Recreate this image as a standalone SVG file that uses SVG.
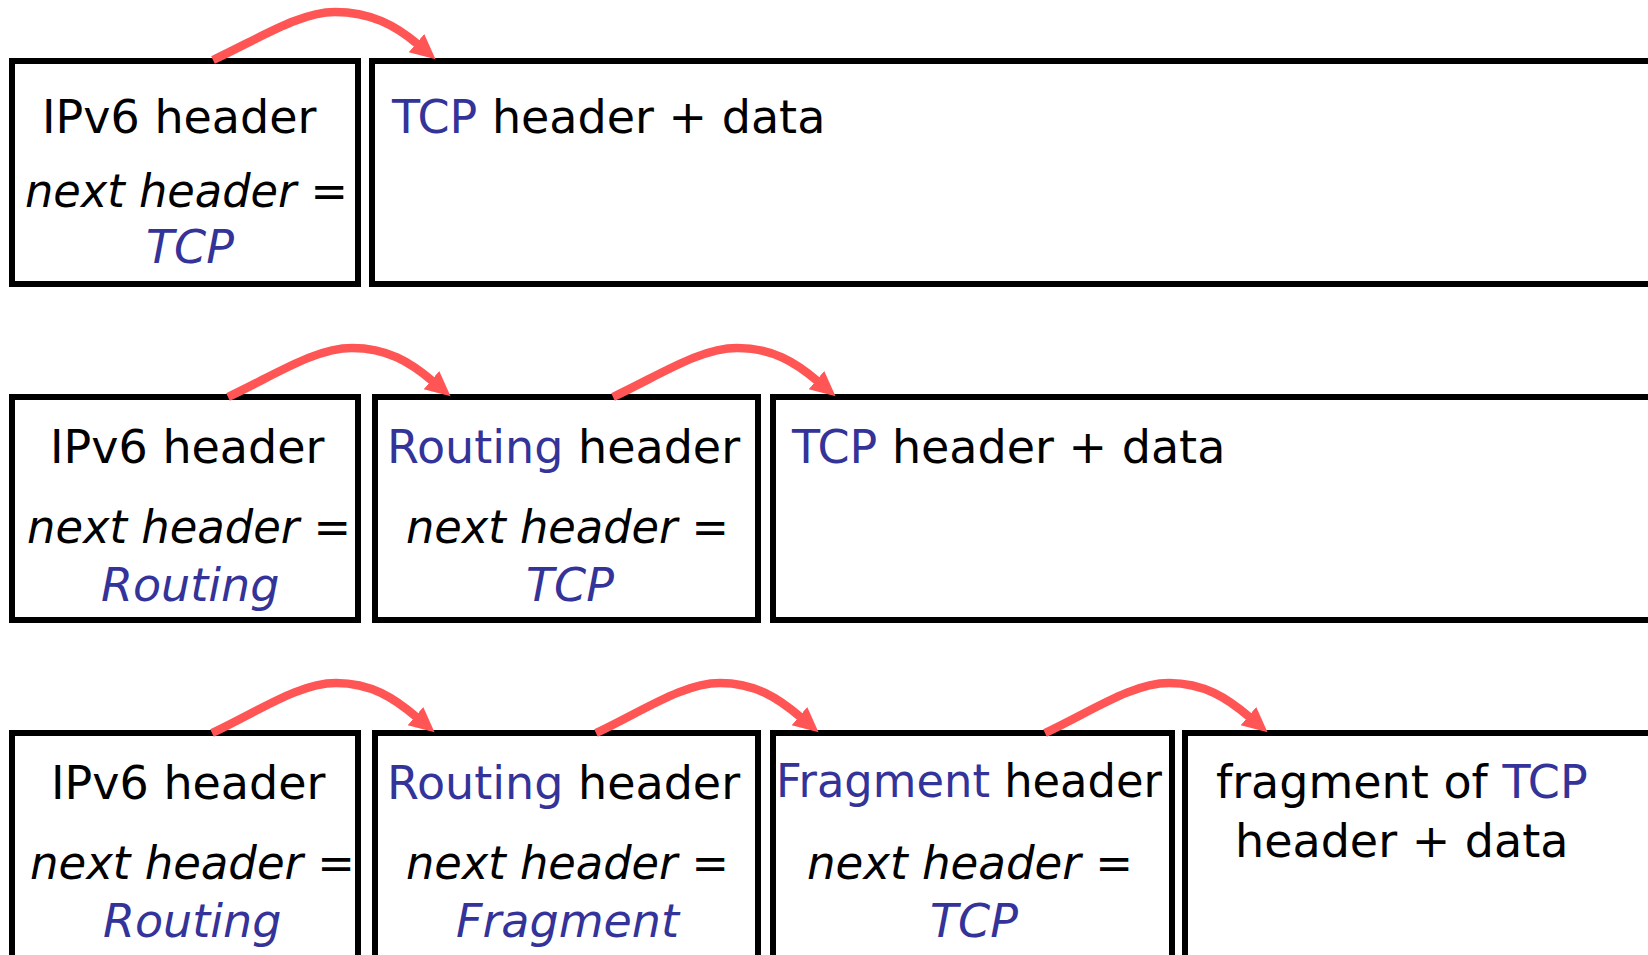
<svg xmlns="http://www.w3.org/2000/svg" width="1648" height="955" viewBox="0 0 1648 955">
  <style>
    .box { fill: #ffffff; stroke: #000000; stroke-width: 6; }
    .t { font-family: "DejaVu Sans", "Liberation Sans", sans-serif; font-size: 46px; fill: #000000; }
    .i { font-style: italic; }
    .b { fill: #333399; }
    .link { fill: none; stroke: #ff5555; stroke-width: 8.5; marker-end: url(#head); }
  </style>
  <defs>
    <marker id="head" markerUnits="userSpaceOnUse" markerWidth="32" markerHeight="32" viewBox="0 -16 32 32" refX="2" refY="0" orient="auto">
      <path d="M0,-12 L25,0 L0,12 z" fill="#ff5555"/>
    </marker>
  </defs>
  <rect width="1648" height="955" fill="#ffffff"/>

  <!-- Packet 1: IPv6 + TCP -->
  <g id="p1-ipv6">
    <rect class="box" x="12" y="61" width="346" height="223"/>
    <text class="t" x="42" y="133">IPv6 header</text>
    <text class="t i" x="25" y="207" textLength="323" lengthAdjust="spacingAndGlyphs">next header =</text>
    <text class="t i b" x="146" y="263">TCP</text>
  </g>
  <g id="p1-tcp">
    <rect class="box" x="372" y="61" width="1400" height="223"/>
    <text class="t" x="392" y="133"><tspan class="b">TCP</tspan> header + data</text>
  </g>

  <!-- Packet 2: IPv6 + Routing + TCP -->
  <g id="p2-ipv6">
    <rect class="box" x="12" y="397" width="346" height="223"/>
    <text class="t" x="50" y="463">IPv6 header</text>
    <text class="t i" x="27" y="543" textLength="324" lengthAdjust="spacingAndGlyphs">next header =</text>
    <text class="t i b" x="101" y="601">Routing</text>
  </g>
  <g id="p2-routing">
    <rect class="box" x="375" y="397" width="383" height="223"/>
    <text class="t" x="387" y="463"><tspan class="b">Routing</tspan> header</text>
    <text class="t i" x="406" y="543" textLength="323" lengthAdjust="spacingAndGlyphs">next header =</text>
    <text class="t i b" x="526" y="601">TCP</text>
  </g>
  <g id="p2-tcp">
    <rect class="box" x="773" y="397" width="1000" height="223"/>
    <text class="t" x="792" y="463"><tspan class="b">TCP</tspan> header + data</text>
  </g>

  <!-- Packet 3: IPv6 + Routing + Fragment + TCP fragment -->
  <g id="p3-ipv6">
    <rect class="box" x="12" y="733" width="346" height="300"/>
    <text class="t" x="51" y="799">IPv6 header</text>
    <text class="t i" x="30" y="879" textLength="325" lengthAdjust="spacingAndGlyphs">next header =</text>
    <text class="t i b" x="103" y="937">Routing</text>
  </g>
  <g id="p3-routing">
    <rect class="box" x="375" y="733" width="383" height="300"/>
    <text class="t" x="387" y="799"><tspan class="b">Routing</tspan> header</text>
    <text class="t i" x="406" y="879" textLength="323" lengthAdjust="spacingAndGlyphs">next header =</text>
    <text class="t i b" x="456" y="937">Fragment</text>
  </g>
  <g id="p3-fragment">
    <rect class="box" x="773" y="733" width="399" height="300"/>
    <text class="t" x="776" y="797" textLength="386" lengthAdjust="spacingAndGlyphs"><tspan class="b">Fragment</tspan> header</text>
    <text class="t i" x="807" y="879" textLength="326" lengthAdjust="spacingAndGlyphs">next header =</text>
    <text class="t i b" x="930" y="937">TCP</text>
  </g>
  <g id="p3-tcp-fragment">
    <rect class="box" x="1185" y="733" width="600" height="300"/>
    <text class="t" x="1216" y="798">fragment of <tspan class="b">TCP</tspan></text>
    <text class="t" x="1235" y="857">header + data</text>
  </g>

  <!-- next-header links -->
  <g id="connectors">
    <path class="link" d="M213,60 C260,38 300,12 335,12 C370,12 395,25 418,44.5"/>
    <path class="link" d="M228,397 C275,375 315,348 352,348 C387,348 410,362 433,381.5"/>
    <path class="link" d="M613,397 C660,375 700,348 737,348 C772,348 795,362 818,381.5"/>
    <path class="link" d="M212,733 C259,711 299,683 336,683 C371,683 394,698 417,717.5"/>
    <path class="link" d="M596,733 C643,711 683,683 720,683 C755,683 778,698 801,717.5"/>
    <path class="link" d="M1045,733 C1092,711 1132,683 1169,683 C1204,683 1227,698 1250,717.5"/>
  </g>
</svg>
